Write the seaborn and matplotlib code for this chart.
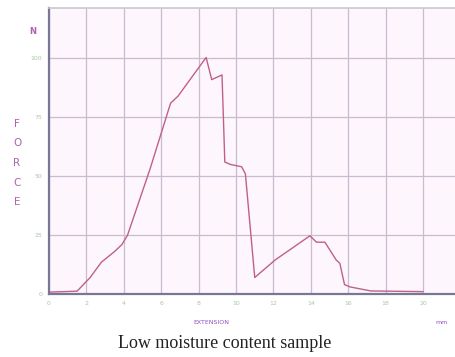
import matplotlib
matplotlib.use("Agg")
import matplotlib.pyplot as plt
import seaborn as sns
import pandas as pd

sns.set_theme(style="white")

extension = [0.0, 1.5, 2.2, 2.8, 3.5, 3.9, 4.2, 5.4, 6.5, 6.9, 8.4, 8.7, 9.25,
             9.4, 9.7, 10.3, 10.5, 11.0, 12.1, 13.95, 14.3, 14.75, 15.35, 15.55,
             15.8, 16.1, 17.2, 20.0]
force = [0.8, 1.2, 7.0, 13.5, 18.0, 21.0, 25.0, 53.0, 81.0, 84.0, 100.4, 91.0, 93.0,
         56.0, 55.0, 54.0, 51.0, 7.0, 14.5, 24.7, 22.0, 22.0, 14.5, 13.0,
         4.0, 3.0, 1.3, 1.0]
x_ticks = [0, 2, 4, 6, 8, 10, 12, 14, 16, 18, 20]
y_ticks = [0, 25, 50, 75, 100]

df = pd.DataFrame({"extension": extension, "force": force})

fig = plt.figure(figsize=(4.55, 3.57), dpi=100)
ax = fig.add_axes([49/455, 1-294/357, 1-49/455+0.01, (294-8)/357])
ax.set_facecolor("#fdf6fc")

sns.lineplot(data=df, x="extension", y="force", ax=ax, color="#c0608a",
             linewidth=1.0, sort=False)

ax.set_xlim(0, 21.95)
ax.set_ylim(0, 121.4)
ax.set_xticks(x_ticks)
ax.set_yticks(y_ticks)
ax.set_xticklabels([str(t) for t in x_ticks], fontsize=4.5, color="#a8c8a0")
ax.set_yticklabels([str(t) for t in y_ticks], fontsize=4.5, color="#a8c8a0")
ax.tick_params(axis="both", length=0, pad=5)
ax.grid(True, color="#cabcce", linewidth=0.9)
ax.set_axisbelow(True)
ax.set_xlabel("")
ax.set_ylabel("")

for side in ["left", "bottom"]:
    ax.spines[side].set_color("#787894")
    ax.spines[side].set_linewidth(1.6)
ax.spines["top"].set_color("#c8c8d0")
ax.spines["top"].set_linewidth(1.2)
ax.spines["right"].set_visible(False)

lab = "#b060b0"
fig.text(33/455, 1-31/357, "N", fontsize=6, color=lab, fontweight="bold",
         ha="center", va="center")
for i, ch in enumerate("FORCE"):
    fig.text(17/455, 1-(124+i*19.5)/357, ch, fontsize=7.5, color=lab,
             ha="center", va="center")
fig.text(211/455, 1-322/357, "EXTENSION", fontsize=4.5, color="#9050c0",
         ha="center", va="center")
fig.text(442/455, 1-323/357, "mm", fontsize=4.5, color="#9050c0",
         ha="center", va="center")
fig.text(225/455, 1-344/357, "Low moisture content sample", fontsize=13,
         color="#222222", family="Liberation Serif", ha="center", va="center")

fig.savefig("out.png", dpi=100)
